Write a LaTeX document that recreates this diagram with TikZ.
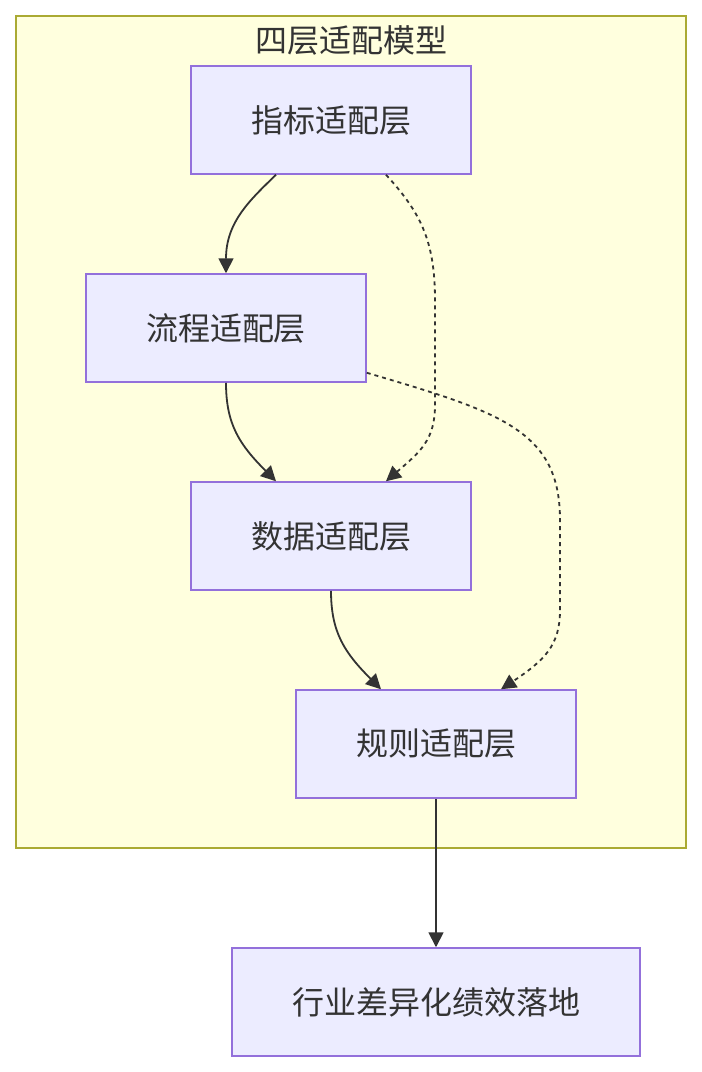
\documentclass[tikz,border=0pt]{standalone}
\usepackage{fontspec}
\setmainfont{Noto Sans CJK SC}
\usetikzlibrary{arrows.meta}
\definecolor{clfill}{HTML}{FFFFDE}
\definecolor{cldraw}{HTML}{AAAA33}
\definecolor{nfill}{HTML}{ECECFF}
\definecolor{ndraw}{HTML}{9370DB}
\definecolor{ink}{HTML}{333333}
\tikzset{
  layer/.style={draw=ndraw,fill=nfill,line width=1.5pt,minimum height=108pt,
    inner sep=0pt,text=ink,font=\fontsize{32}{38}\selectfont},
  link/.style={draw=ink,line width=1.8pt,-{Triangle[length=15pt,width=15pt]}},
  weak/.style={link,dash pattern=on 4pt off 4pt}
}
\begin{document}
\begin{tikzpicture}[x=1pt,y=-1pt]
  \useasboundingbox (0,0) rectangle (702,1072);
  % subgraph frame
  \draw[cldraw,fill=clfill,line width=1.3pt] (16,16) rectangle (686,848);
  \node[text=ink,font=\fontsize{32}{38}\selectfont] (title) at (351,40) {四层适配模型};
  % layers
  \node[layer,minimum width=280pt] (zb) at (331,120) {指标适配层};
  \node[layer,minimum width=280pt] (lc) at (226,328) {流程适配层};
  \node[layer,minimum width=280pt] (sj) at (331,536) {数据适配层};
  \node[layer,minimum width=280pt] (gz) at (436,744) {规则适配层};
  \node[layer,minimum width=408pt] (ld) at (436,1002) {行业差异化绩效落地};
  % solid links
  \draw[link] ([xshift=-55pt]zb.south) .. controls (250,200) and (226,222) .. (lc.north);
  \draw[link] (lc.south) .. controls (226,425) and (240,445) .. ([xshift=-55pt]sj.north);
  \draw[link] (sj.south) .. controls (331,633) and (345,653) .. ([xshift=-55pt]gz.north);
  \draw[link] (gz.south) -- (ld.north);
  % dashed links
  \draw[weak] ([xshift=55pt]zb.south) .. controls (420,212) and (435,240) .. (435,300)
    -- (435,405) .. controls (435,440) and (420,452) .. ([xshift=55pt]sj.north);
  \draw[weak] ([yshift=10pt]lc.south east) .. controls (500,412) and (560,430) .. (560,520)
    -- (560,610) .. controls (560,645) and (545,660) .. ([xshift=65pt]gz.north);
\end{tikzpicture}
\end{document}
